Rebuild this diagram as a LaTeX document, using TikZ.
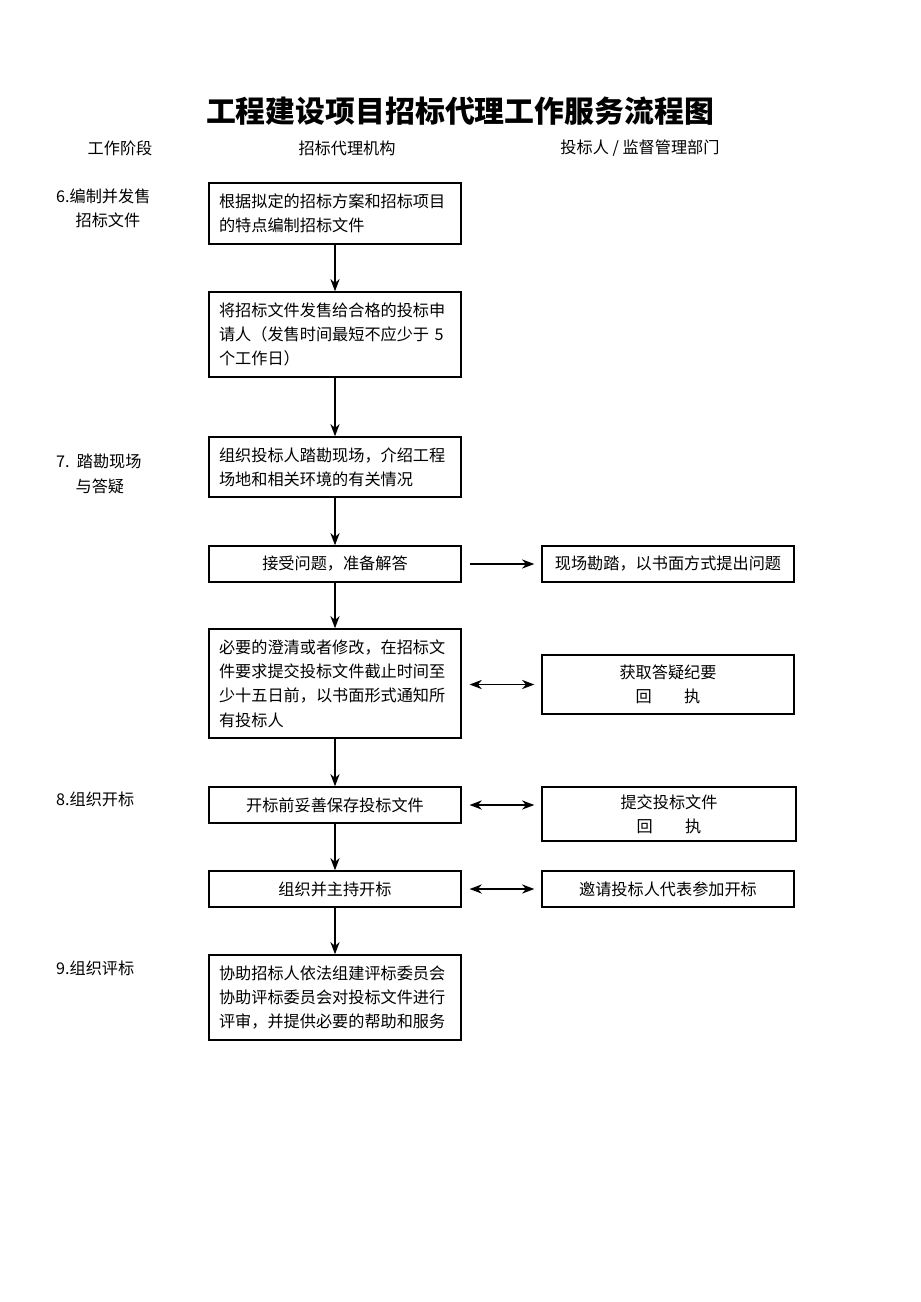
\documentclass[tikz,border=0pt]{standalone}
\usepackage{fontspec}
\setmainfont{Liberation Serif}
\newfontfamily\cjk{Noto Sans CJK SC}
\usetikzlibrary{arrows.meta}
\begin{document}
\begin{tikzpicture}[x=0.02cm,y=-0.02cm,
  font=\cjk\fontsize{9.2}{13.8}\selectfont]

%
% Styles
%
\tikzset{
  task/.style   = {draw,thick,text width=4.64cm,inner xsep=0.2cm,inner ysep=0pt,align=left},
  reply/.style  = {draw,thick,text width=4.64cm,inner xsep=0.2cm,inner ysep=0pt,align=center},
  flow/.style   = {-{Stealth[length=7pt]},thick},
  link/.style   = {thick,shorten <=4.5pt,shorten >=4pt},
  phase/.style  = {anchor=west,align=left}
}

\useasboundingbox (0,0) rectangle (920,1302);

\node[font=\cjk\bfseries\fontsize{17}{20}\selectfont] (title) at (460,111) {工程建设项目招标代理工作服务流程图};
\node (hphase) at (120,148) {工作阶段};
\node (hagent) at (347,148) {招标代理机构};
\node (hbidder) at (640,148) {投标人 / 监督管理部门};

\node[phase] (p6) at (50,208) {6.编制并发售\\\hspace{1.2em}招标文件};
\node[phase] (p7) at (50,474) {7.\ \ 踏勘现场\\\hspace{1.2em}与答疑};
\node[phase] (p8) at (50,799) {8.组织开标};
\node[phase] (p9) at (50,968) {9.组织评标};

\node[task,minimum height=61*0.02cm]  (b1) at (335,213.5) {根据拟定的招标方案和招标项目\\的特点编制招标文件};
\node[task,minimum height=85*0.02cm]  (b2) at (335,334.5) {将招标文件发售给合格的投标申\\请人（发售时间最短不应少于 5\\个工作日）};
\node[task,minimum height=60*0.02cm]  (b3) at (335,467) {组织投标人踏勘现场，介绍工程\\场地和相关环境的有关情况};
\node[reply,minimum height=36*0.02cm] (b4) at (335,564) {接受问题，准备解答};
\node[task,minimum height=109*0.02cm] (b5) at (335,683.5) {必要的澄清或者修改，在招标文\\件要求提交投标文件截止时间至\\少十五日前，以书面形式通知所\\有投标人};
\node[reply,minimum height=36*0.02cm] (b6) at (335,805) {开标前妥善保存投标文件};
\node[reply,minimum height=36*0.02cm] (b7) at (335,889) {组织并主持开标};
\node[task,minimum height=85*0.02cm]  (b8) at (335,997.5) {协助招标人依法组建评标委员会\\协助评标委员会对投标文件进行\\评审，并提供必要的帮助和服务};

\node[reply,minimum height=36*0.02cm] (r1) at (668,564) {现场勘踏，以书面方式提出问题};
\node[reply,minimum height=59*0.02cm] (r2) at (668,684.5) {获取答疑纪要\\回\hspace{2em}执};
\node[reply,minimum height=54*0.02cm,text width=4.68cm] (r3) at (669,814) {提交投标文件\\回\hspace{2em}执};
\node[reply,minimum height=36*0.02cm] (r4) at (668,889) {邀请投标人代表参加开标};

\draw[flow] (b1) -- (b2);
\draw[flow] (b2) -- (b3);
\draw[flow] (b3) -- (b4);
\draw[flow] (b4) -- (b5);
\draw[flow] (b5) -- (b6);
\draw[flow] (b6) -- (b7);
\draw[flow] (b7) -- (b8);

\draw[link,-{Stealth[length=7pt]}] (b4.east) -- (r1.west);
\draw[link,{Stealth[length=7pt]}-{Stealth[length=7pt]}] (b5.east |- r2.west) -- (r2.west);
\draw[link,{Stealth[length=7pt]}-{Stealth[length=7pt]}] (b6.east) -- (b6.east -| r3.west);
\draw[link,{Stealth[length=7pt]}-{Stealth[length=7pt]}] (b7.east) -- (r4.west);

\end{tikzpicture}
\end{document}
